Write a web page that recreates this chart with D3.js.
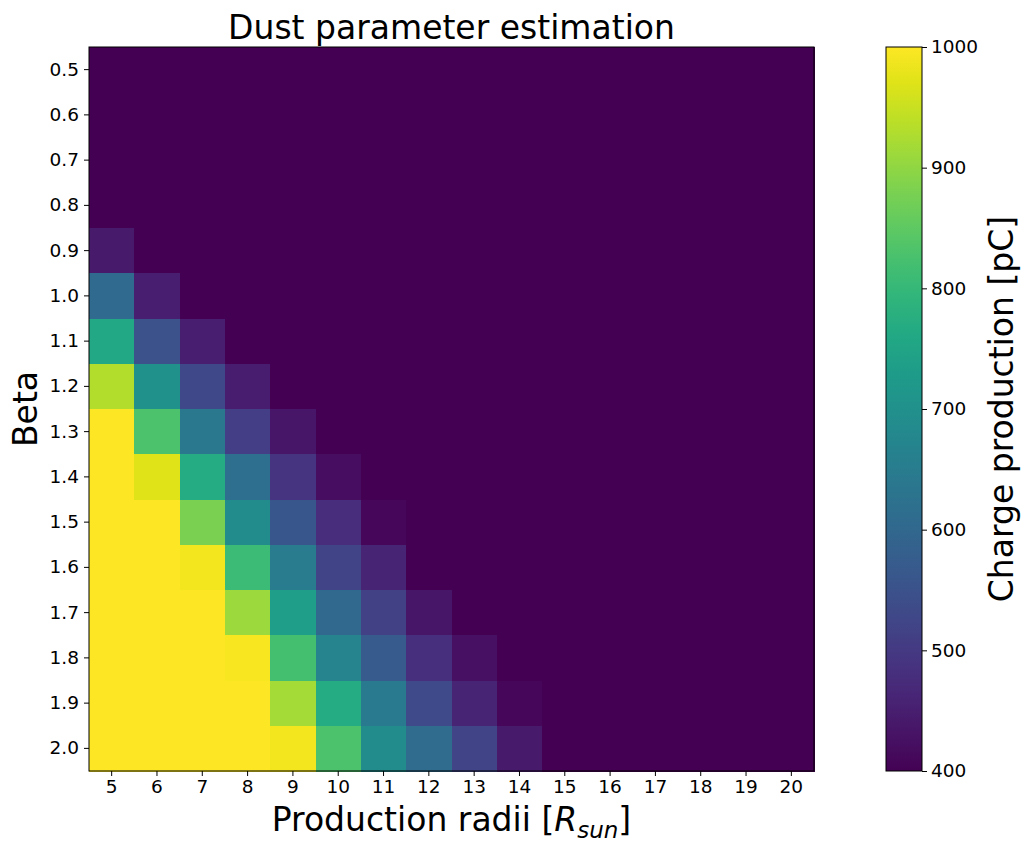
<!DOCTYPE html>
<html>
<head>
<meta charset="utf-8">
<script src="https://cdn.jsdelivr.net/npm/d3@7"></script>
<style>
  body { margin: 0; background: #fff; }
  text { font-family: "DejaVu Sans", sans-serif; fill: #000; }
</style>
</head>
<body>
<div id="chart"></div>
<script>
// production radii (columns) and beta values (rows)
const radii = d3.range(5, 21);
const betas = [0.5, 0.6, 0.7, 0.8, 0.9, 1.0, 1.1, 1.2, 1.3, 1.4, 1.5, 1.6, 1.7, 1.8, 1.9, 2.0];

// charge production [pC], one row per beta, columns radius 5..20
const charge = [
  [400, 400, 400, 400, 400, 400, 400, 400, 400, 400, 400, 400, 400, 400, 400, 400],
  [400, 400, 400, 400, 400, 400, 400, 400, 400, 400, 400, 400, 400, 400, 400, 400],
  [400, 400, 400, 400, 400, 400, 400, 400, 400, 400, 400, 400, 400, 400, 400, 400],
  [400, 400, 400, 400, 400, 400, 400, 400, 400, 400, 400, 400, 400, 400, 400, 400],
  [440, 400, 400, 400, 400, 400, 400, 400, 400, 400, 400, 400, 400, 400, 400, 400],
  [605, 450, 400, 400, 400, 400, 400, 400, 400, 400, 400, 400, 400, 400, 400, 400],
  [760, 550, 450, 400, 400, 400, 400, 400, 400, 400, 400, 400, 400, 400, 400, 400],
  [930, 700, 530, 445, 400, 400, 400, 400, 400, 400, 400, 400, 400, 400, 400, 400],
  [1000, 830, 640, 510, 435, 400, 400, 400, 400, 400, 400, 400, 400, 400, 400, 400],
  [1000, 970, 770, 615, 490, 420, 400, 400, 400, 400, 400, 400, 400, 400, 400, 400],
  [1000, 1000, 880, 690, 560, 475, 410, 400, 400, 400, 400, 400, 400, 400, 400, 400],
  [1000, 1000, 990, 810, 650, 520, 460, 400, 400, 400, 400, 400, 400, 400, 400, 400],
  [1000, 1000, 1000, 910, 735, 600, 515, 435, 400, 400, 400, 400, 400, 400, 400, 400],
  [1000, 1000, 1000, 995, 820, 670, 570, 480, 425, 400, 400, 400, 400, 400, 400, 400],
  [1000, 1000, 1000, 1000, 920, 770, 645, 535, 460, 410, 400, 400, 400, 400, 400, 400],
  [1000, 1000, 1000, 1000, 990, 830, 690, 610, 520, 440, 400, 400, 400, 400, 400, 400]
];
const cbarTicks = [400, 500, 600, 700, 800, 900, 1000];

const W = 1023, H = 844;
const plot = { x0: 89, x1: 814, y0: 47, y1: 771 };
const cbar = { x0: 886, x1: 922 };
const tickFont = '18.5px';
const labelFont = '33px';

const svg = d3.select('#chart').append('svg')
  .attr('width', W)
  .attr('height', H);

const x = d3.scaleBand().domain(radii).range([plot.x0, plot.x1]).padding(0);
const y = d3.scaleBand().domain(betas).range([plot.y0, plot.y1]).padding(0);
const color = d3.scaleSequential(d3.interpolateViridis).domain([400, 1000]).clamp(true);

const cells = [];
charge.forEach((row, i) => row.forEach((v, j) => cells.push({ beta: betas[i], r: radii[j], v })));

svg.append('g')
  .attr('shape-rendering', 'crispEdges')
  .selectAll('rect')
  .data(cells)
  .enter()
  .append('rect')
  .attr('x', d => x(d.r))
  .attr('y', d => y(d.beta))
  .attr('width', x.bandwidth() + 1)
  .attr('height', y.bandwidth() + 1)
  .attr('fill', d => color(d.v));

svg.append('rect')
  .attr('x', plot.x0).attr('y', plot.y0)
  .attr('width', plot.x1 - plot.x0).attr('height', plot.y1 - plot.y0)
  .attr('fill', 'none').attr('stroke', '#000').attr('stroke-width', 1);

const xAxis = svg.append('g')
  .attr('transform', `translate(0,${plot.y1})`)
  .call(d3.axisBottom(x).tickSizeOuter(0).tickSize(5).tickPadding(4));
const yAxis = svg.append('g')
  .attr('transform', `translate(${plot.x0},0)`)
  .call(d3.axisLeft(y).tickSizeOuter(0).tickSize(5).tickPadding(5).tickFormat(d3.format('.1f')));
[xAxis, yAxis].forEach(g => {
  g.select('.domain').remove();
  g.selectAll('text').style('font-size', tickFont).style('font-family', '"DejaVu Sans", sans-serif');
  g.selectAll('line').attr('stroke', '#000');
});

// colorbar
const defs = svg.append('defs');
const grad = defs.append('linearGradient').attr('id', 'vir')
  .attr('x1', 0).attr('y1', 1).attr('x2', 0).attr('y2', 0);
d3.range(0, 1.001, 0.05).forEach(t => {
  grad.append('stop').attr('offset', t).attr('stop-color', d3.interpolateViridis(t));
});
svg.append('rect')
  .attr('x', cbar.x0).attr('y', plot.y0)
  .attr('width', cbar.x1 - cbar.x0).attr('height', plot.y1 - plot.y0)
  .attr('fill', 'url(#vir)')
  .attr('stroke', '#000').attr('stroke-width', 1);

const cy = d3.scaleLinear().domain([400, 1000]).range([plot.y1, plot.y0]);
const cAxis = svg.append('g')
  .attr('transform', `translate(${cbar.x1},0)`)
  .call(d3.axisRight(cy).tickValues(cbarTicks).tickSize(5).tickPadding(4).tickFormat(d3.format('d')));
cAxis.select('.domain').remove();
cAxis.selectAll('text').style('font-size', tickFont).style('font-family', '"DejaVu Sans", sans-serif');

// titles
svg.append('text')
  .attr('x', (plot.x0 + plot.x1) / 2).attr('y', 39)
  .attr('text-anchor', 'middle')
  .style('font-size', labelFont)
  .text('Dust parameter estimation');

const xl = svg.append('text')
  .attr('x', (plot.x0 + plot.x1) / 2).attr('y', 831)
  .attr('text-anchor', 'middle')
  .style('font-size', labelFont);
xl.append('tspan').text('Production radii [');
xl.append('tspan').style('font-style', 'italic').text('R');
xl.append('tspan').style('font-style', 'italic').style('font-size', '23px').attr('dy', 7).text('sun');
xl.append('tspan').attr('dy', -7).text(']');

svg.append('text')
  .attr('transform', `translate(37,${(plot.y0 + plot.y1) / 2}) rotate(-90)`)
  .attr('text-anchor', 'middle')
  .style('font-size', labelFont)
  .text('Beta');

svg.append('text')
  .attr('transform', `translate(1013,${(plot.y0 + plot.y1) / 2}) rotate(-90)`)
  .attr('text-anchor', 'middle')
  .style('font-size', labelFont)
  .text('Charge production [pC]');
</script>
</body>
</html>
